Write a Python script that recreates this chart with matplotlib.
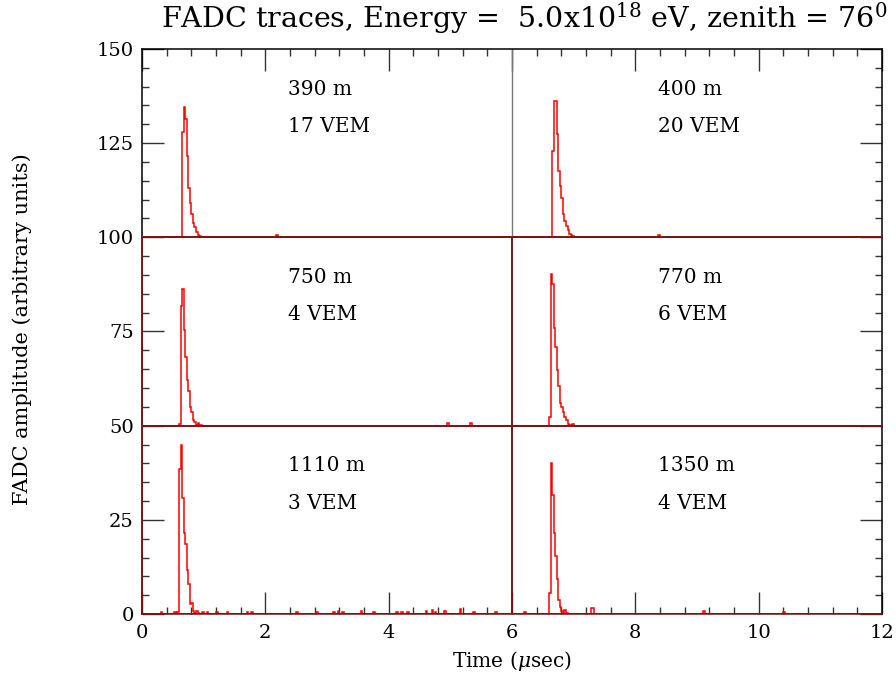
import numpy as np
import matplotlib
matplotlib.use("Agg")
import matplotlib.pyplot as plt
from matplotlib.ticker import MultipleLocator

plt.rcParams["font.family"] = ["DejaVu Serif"]
plt.rcParams["mathtext.fontset"] = "dejavuserif"

# ---------------- data ----------------
distances = ["390 m", "400 m", "750 m", "770 m", "1110 m", "1350 m"]
vem_labels = ["17 VEM", "20 VEM", "4 VEM", "6 VEM", "3 VEM", "4 VEM"]
panel_base = [100, 100, 50, 50, 0, 0]          # vertical offset of each trace
panel_t0 = [0.0, 6.0, 0.0, 6.0, 0.0, 6.0]      # time origin of each trace (usec)
bin_width = 0.025                              # FADC bin (usec)
n_bins = 240

pulse_start = [0.65, 6.65, 0.60, 6.60, 0.575, 6.60]

pulse_390 = [28.0, 34.5, 31.5, 21.6, 13.1, 9.0, 6.3, 3.8, 2.7, 1.4, 0.5, 0.3, 0.1, 0.1, 0.1]
pulse_400 = [23.0, 36.2, 36.2, 27.5, 17.6, 13.6, 10.5, 6.3, 4.3, 2.9, 2.0, 1.0, 0.5, 0.3, 0.1, 0.1]
pulse_750 = [0.4, 31.7, 36.2, 25.3, 18.2, 12.0, 9.1, 5.0, 3.5, 1.5, 0.9, 0.3, 0.6, 0.2, 0.1]
pulse_770 = [2.2, 40.3, 37.7, 25.9, 20.8, 14.8, 10.6, 5.9, 5.0, 3.5, 2.4, 1.5, 0.4, 0.2, 0.1, 0.1]
pulse_1110 = [0.5, 38.5, 44.9, 30.9, 21.5, 18.5, 11.6, 7.9, 2.7, 2.8, 0.8, 0.3, 0.8, 0.3]
pulse_1350 = [5.6, 40.0, 31.7, 21.6, 15.5, 9.4, 3.8, 1.9, 0.9, 0.3, 1.1, 0.3]

noise_t_390 = [2.17]
noise_a_390 = [0.6]
noise_t_400 = [8.37]
noise_a_400 = [0.5]
noise_t_750 = [4.96, 5.32]
noise_a_750 = [0.8, 0.7]
noise_t_770 = [6.98]
noise_a_770 = [0.3]
noise_t_1110 = [0.29, 0.53, 0.97, 1.05, 1.21, 1.37, 1.70, 1.78, 2.51, 2.83, 3.10, 3.18,
                3.26, 3.54, 3.75, 4.13, 4.21, 4.29, 4.59, 4.70, 4.75, 4.89, 5.16, 5.37, 5.72]
noise_a_1110 = [0.4, 0.6, 0.5, 0.4, 0.4, 0.6, 0.5, 0.4, 0.4, 0.6, 0.5, 0.7,
                0.6, 0.8, 0.5, 0.4, 0.5, 0.4, 0.9, 1.0, 0.6, 0.8, 1.2, 0.5, 0.5]
noise_t_1350 = [6.20, 7.28, 7.31, 9.10, 10.40]
noise_a_1350 = [0.4, 1.6, 1.6, 0.7, 0.4]

pulses = [pulse_390, pulse_400, pulse_750, pulse_770, pulse_1110, pulse_1350]
noise_t = [noise_t_390, noise_t_400, noise_t_750, noise_t_770, noise_t_1110, noise_t_1350]
noise_a = [noise_a_390, noise_a_400, noise_a_750, noise_a_770, noise_a_1110, noise_a_1350]

x_ticks = [0, 2, 4, 6, 8, 10, 12]
y_ticks = [0, 25, 50, 75, 100, 125, 150]

# ---------------- figure ----------------
fig = plt.figure(figsize=(8.96, 6.76), dpi=100)
ax = fig.add_axes([142 / 896, 1 - 614 / 676, 740 / 896, 565 / 676])
ax.set_xlim(0, 12)
ax.set_ylim(0, 150)

darkred = "#7a1414"

for i in range(6):
    vals = np.zeros(n_bins)
    t0 = panel_t0[i]
    k0 = int(round((pulse_start[i] - t0) / bin_width))
    p = np.array(pulses[i])
    vals[k0:k0 + len(p)] += p
    for t, a in zip(noise_t[i], noise_a[i]):
        vals[int(round((t - t0) / bin_width))] += a
    edges = t0 + np.arange(n_bins + 1) * bin_width
    ax.stairs(panel_base[i] + vals, edges, baseline=None, color="red", lw=1.1, zorder=3)

    col = i % 2
    lx = 2.37 + 6 * col
    ax.text(lx, panel_base[i] + 39.3, distances[i], fontsize=14.5, va="center", ha="left")
    ax.text(lx, panel_base[i] + 29.4, vem_labels[i], fontsize=14.5, va="center", ha="left")

# baselines / separators
for b in sorted(set(panel_base)):
    ax.axhline(b, color=darkred, lw=1.4, zorder=4)
ax.vlines(sorted(set(panel_t0)), 0, max(panel_base), color=darkred, lw=1.4, zorder=4)
ax.vlines([6], max(panel_base), 150, color="#777777", lw=1.0, zorder=2)

ax.xaxis.set_major_locator(MultipleLocator(2))
ax.xaxis.set_minor_locator(MultipleLocator(0.4))
ax.yaxis.set_major_locator(MultipleLocator(25))
ax.yaxis.set_minor_locator(MultipleLocator(5))
ax.set_xticks(x_ticks)
ax.set_yticks(y_ticks)
ax.set_xticklabels([str(v) for v in x_ticks])
ax.set_yticklabels([str(v) for v in y_ticks])

ax.tick_params(which="both", direction="in", top=True, right=True, color="#333333")
ax.tick_params(which="major", length=15.8, width=1.0, labelsize=14, pad=7)
ax.tick_params(which="minor", length=5.0, width=1.0)
ax.tick_params(axis="y", which="major", pad=6)
for s in ax.spines.values():
    s.set_linewidth(1.1)
    s.set_color("black")
ax.spines["bottom"].set_color(darkred)

ax.set_xlabel(r"Time ($\mu$sec)", fontsize=14.5, labelpad=5)
fig.text(22 / 896, 1 - 329 / 676, "FADC amplitude (arbitrary units)", rotation=90,
         fontsize=15, ha="center", va="center")
fig.text(524 / 896, 1 - 28 / 676,
         r"FADC traces, Energy =  5.0x10$^{18}$ eV, zenith = 76$^{0}$",
         fontsize=20.5, ha="center", va="baseline")

fig.savefig("out.png", dpi=100)
